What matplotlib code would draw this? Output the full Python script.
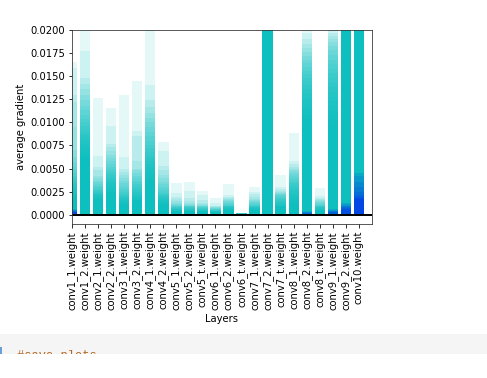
import numpy as np
import matplotlib
matplotlib.use("Agg")
import matplotlib.pyplot as plt
from matplotlib.patches import Rectangle

layers = ["conv1_1.weight", "conv1_2.weight", "conv2_1.weight", "conv2_2.weight",
          "conv3_1.weight", "conv3_2.weight", "conv4_1.weight", "conv4_2.weight",
          "conv5_1.weight", "conv5_2.weight", "conv5_t.weight", "conv6_1.weight",
          "conv6_2.weight", "conv6_t.weight", "conv7_1.weight", "conv7_2.weight",
          "conv7_t.weight", "conv8_1.weight", "conv8_2.weight", "conv8_t.weight",
          "conv9_1.weight", "conv9_2.weight", "conv10.weight"]

# max gradient per layer, one value per recorded iteration (25 iterations)
max_conv1_1 = [0.0165, 0.0159, 0.0130, 0.0122, 0.0095, 0.0070, 0.0062, 0.0057, 0.0052, 0.0048,
               0.0045, 0.0042, 0.0040, 0.0038, 0.0036, 0.0034, 0.0032, 0.0030, 0.0028, 0.0026,
               0.0024, 0.0022, 0.0020, 0.0018, 0.0016]
max_conv1_2 = [0.0215, 0.0177, 0.0148, 0.0142, 0.0136, 0.0130, 0.0124, 0.0118, 0.0113, 0.0108,
               0.0104, 0.0100, 0.0096, 0.0092, 0.0089, 0.0086, 0.0083, 0.0080, 0.0077, 0.0074,
               0.0071, 0.0068, 0.0065, 0.0062, 0.0060]
max_conv2_1 = [0.0126, 0.0064, 0.0052, 0.0048, 0.0042, 0.0040, 0.0037, 0.0035, 0.0033, 0.0031,
               0.0030, 0.0028, 0.0027, 0.0026, 0.0025, 0.0024, 0.0023, 0.0022, 0.0021, 0.0020,
               0.0019, 0.0018, 0.0017, 0.0016, 0.0015]
max_conv2_2 = [0.0116, 0.0096, 0.0077, 0.0073, 0.0069, 0.0065, 0.0061, 0.0058, 0.0055, 0.0052,
               0.0049, 0.0047, 0.0045, 0.0043, 0.0041, 0.0039, 0.0037, 0.0035, 0.0033, 0.0031,
               0.0029, 0.0027, 0.0025, 0.0023, 0.0021]
max_conv3_1 = [0.0130, 0.0063, 0.0050, 0.0046, 0.0043, 0.0040, 0.0037, 0.0034, 0.0031, 0.0029,
               0.0027, 0.0025, 0.0023, 0.0021, 0.0020, 0.0019, 0.0018, 0.0017, 0.0016, 0.0015,
               0.0014, 0.0013, 0.0012, 0.0011, 0.0010]
max_conv3_2 = [0.0145, 0.0091, 0.0085, 0.0058, 0.0050, 0.0048, 0.0045, 0.0042, 0.0040, 0.0037,
               0.0035, 0.0033, 0.0031, 0.0029, 0.0027, 0.0025, 0.0023, 0.0021, 0.0020, 0.0019,
               0.0018, 0.0017, 0.0016, 0.0015, 0.0014]
max_conv4_1 = [0.0210, 0.0140, 0.0124, 0.0117, 0.0110, 0.0105, 0.0100, 0.0095, 0.0090, 0.0085,
               0.0080, 0.0076, 0.0072, 0.0068, 0.0064, 0.0061, 0.0058, 0.0055, 0.0052, 0.0049,
               0.0046, 0.0043, 0.0040, 0.0037, 0.0034]
max_conv4_2 = [0.0079, 0.0069, 0.0053, 0.0048, 0.0043, 0.0040, 0.0036, 0.0033, 0.0030, 0.0028,
               0.0026, 0.0024, 0.0022, 0.0021, 0.0020, 0.0019, 0.0018, 0.0017, 0.0016, 0.0015,
               0.0014, 0.0013, 0.0012, 0.0011, 0.0010]
max_conv5_1 = [0.0034, 0.0024, 0.0019, 0.0017, 0.0015, 0.0013, 0.0012, 0.0011, 0.0010, 0.0009,
               0.0009, 0.0008, 0.0008, 0.0007, 0.0007, 0.0006, 0.0006, 0.0005, 0.0005, 0.0005,
               0.0004, 0.0004, 0.0004, 0.0003, 0.0003]
max_conv5_2 = [0.0036, 0.0026, 0.0018, 0.0015, 0.0013, 0.0012, 0.0011, 0.0010, 0.0010, 0.0009,
               0.0009, 0.0008, 0.0008, 0.0007, 0.0007, 0.0006, 0.0006, 0.0005, 0.0005, 0.0005,
               0.0004, 0.0004, 0.0004, 0.0003, 0.0003]
max_conv5_t = [0.0026, 0.0021, 0.0016, 0.0013, 0.0012, 0.0011, 0.0010, 0.0009, 0.0009, 0.0008,
               0.0008, 0.0007, 0.0007, 0.0006, 0.0006, 0.0005, 0.0005, 0.0005, 0.0004, 0.0004,
               0.0004, 0.0003, 0.0003, 0.0003, 0.0002]
max_conv6_1 = [0.0018, 0.0013, 0.0010, 0.0009, 0.0008, 0.0008, 0.0007, 0.0007, 0.0006, 0.0006,
               0.0006, 0.0005, 0.0005, 0.0005, 0.0004, 0.0004, 0.0004, 0.0004, 0.0003, 0.0003,
               0.0003, 0.0003, 0.0002, 0.0002, 0.0002]
max_conv6_2 = [0.0033, 0.0021, 0.0019, 0.0018, 0.0017, 0.0016, 0.0015, 0.0014, 0.0013, 0.0012,
               0.0011, 0.0010, 0.0010, 0.0009, 0.0009, 0.0008, 0.0008, 0.0007, 0.0007, 0.0006,
               0.0006, 0.0005, 0.0005, 0.0004, 0.0004]
max_conv6_t = [0.0002, 0.0002, 0.0002, 0.0002, 0.0002, 0.0002, 0.0002, 0.0002, 0.0002, 0.0002,
               0.0002, 0.0002, 0.0002, 0.0002, 0.0001, 0.0001, 0.0001, 0.0001, 0.0001, 0.0001,
               0.0001, 0.0001, 0.0001, 0.0001, 0.0001]
max_conv7_1 = [0.0030, 0.0025, 0.0022, 0.0019, 0.0017, 0.0016, 0.0015, 0.0014, 0.0013, 0.0012,
               0.0011, 0.0010, 0.0010, 0.0009, 0.0009, 0.0008, 0.0008, 0.0007, 0.0007, 0.0006,
               0.0006, 0.0005, 0.0005, 0.0004, 0.0004]
max_conv7_2 = [0.0610, 0.0580, 0.0550, 0.0520, 0.0500, 0.0480, 0.0460, 0.0440, 0.0420, 0.0400,
               0.0380, 0.0360, 0.0340, 0.0330, 0.0320, 0.0310, 0.0300, 0.0290, 0.0280, 0.0270,
               0.0260, 0.0250, 0.0240, 0.0230, 0.0220]
max_conv7_t = [0.0043, 0.0030, 0.0028, 0.0026, 0.0025, 0.0024, 0.0023, 0.0022, 0.0021, 0.0020,
               0.0019, 0.0018, 0.0017, 0.0016, 0.0015, 0.0014, 0.0013, 0.0012, 0.0011, 0.0010,
               0.0010, 0.0009, 0.0009, 0.0008, 0.0008]
max_conv8_1 = [0.0089, 0.0058, 0.0055, 0.0052, 0.0050, 0.0048, 0.0046, 0.0044, 0.0042, 0.0040,
               0.0038, 0.0036, 0.0034, 0.0032, 0.0030, 0.0028, 0.0026, 0.0024, 0.0022, 0.0020,
               0.0018, 0.0016, 0.0014, 0.0012, 0.0010]
max_conv8_2 = [0.0200, 0.0197, 0.0190, 0.0185, 0.0180, 0.0176, 0.0172, 0.0168, 0.0164, 0.0160,
               0.0156, 0.0152, 0.0148, 0.0144, 0.0140, 0.0136, 0.0132, 0.0128, 0.0124, 0.0120,
               0.0116, 0.0112, 0.0108, 0.0104, 0.0100]
max_conv8_t = [0.0029, 0.0020, 0.0018, 0.0017, 0.0016, 0.0015, 0.0014, 0.0013, 0.0012, 0.0011,
               0.0010, 0.0010, 0.0009, 0.0009, 0.0008, 0.0008, 0.0007, 0.0007, 0.0006, 0.0006,
               0.0005, 0.0005, 0.0004, 0.0004, 0.0003]
max_conv9_1 = [0.0215, 0.0200, 0.0197, 0.0193, 0.0190, 0.0187, 0.0183, 0.0178, 0.0173, 0.0168,
               0.0163, 0.0158, 0.0153, 0.0148, 0.0143, 0.0138, 0.0133, 0.0128, 0.0123, 0.0118,
               0.0113, 0.0108, 0.0103, 0.0098, 0.0093]
max_conv9_2 = [0.0900, 0.0850, 0.0800, 0.0750, 0.0700, 0.0650, 0.0600, 0.0560, 0.0520, 0.0480,
               0.0450, 0.0420, 0.0390, 0.0360, 0.0340, 0.0320, 0.0300, 0.0280, 0.0270, 0.0260,
               0.0250, 0.0240, 0.0230, 0.0220, 0.0210]
max_conv10 = [0.2500, 0.2300, 0.2100, 0.1900, 0.1700, 0.1500, 0.1400, 0.1300, 0.1200, 0.1100,
              0.1000, 0.0900, 0.0850, 0.0800, 0.0750, 0.0700, 0.0650, 0.0600, 0.0550, 0.0500,
              0.0450, 0.0400, 0.0350, 0.0300, 0.0250]

# mean gradient per layer, only the iterations where it shows above zero
ave_conv1_1 = [0.0006, 0.0005, 0.0005, 0.0004, 0.0004, 0.0003, 0.0003, 0.0003]
ave_conv8_2 = [0.0004, 0.0003, 0.0003, 0.0002, 0.0002]
ave_conv9_1 = [0.0006, 0.0005, 0.0004, 0.0004, 0.0003, 0.0003]
ave_conv9_2 = [0.0013, 0.0012, 0.0010, 0.0009, 0.0008, 0.0007, 0.0006, 0.0005]
ave_conv10 = [0.0045, 0.0042, 0.0035, 0.0030, 0.0025, 0.0021, 0.0019, 0.0018, 0.0017]

max_grads = [max_conv1_1, max_conv1_2, max_conv2_1, max_conv2_2, max_conv3_1, max_conv3_2,
             max_conv4_1, max_conv4_2, max_conv5_1, max_conv5_2, max_conv5_t, max_conv6_1,
             max_conv6_2, max_conv6_t, max_conv7_1, max_conv7_2, max_conv7_t, max_conv8_1,
             max_conv8_2, max_conv8_t, max_conv9_1, max_conv9_2, max_conv10]
ave_grads = {0: ave_conv1_1, 18: ave_conv8_2, 20: ave_conv9_1, 21: ave_conv9_2, 22: ave_conv10}

n = len(layers)
n_iter = len(max_conv1_1)

fig = plt.figure(figsize=(487 / 72, 378 / 72), dpi=72)
ax = fig.add_axes([72 / 487, (378 - 224) / 378, 300 / 487, (224 - 30) / 378])

x = np.arange(n)
for it in range(n_iter):
    maxs = [m[it] for m in max_grads]
    ax.bar(x, maxs, alpha=0.1, lw=1, color="c")
for it in range(n_iter):
    idx = [k for k, v in ave_grads.items() if it < len(v)]
    if not idx:
        continue
    vals = [ave_grads[k][it] for k in idx]
    ax.bar(idx, vals, alpha=0.1, lw=1, color="b")

ax.hlines(0, 0, n + 1, lw=2, color="k")
ax.set_xticks(range(n))
ax.set_xticklabels(layers, rotation="vertical")
ax.set_xlim(0, n)
ax.set_ylim(-0.001, 0.02)
ax.set_xlabel("Layers")
ax.set_ylabel("average gradient")
for s in ax.spines.values():
    s.set_color("#333333")

# notebook cell below the output
band = Rectangle((0, (378 - 354) / 378), 1, 20 / 378, transform=fig.transFigure,
                 facecolor="#f5f5f5", edgecolor="none")
fig.patches.append(band)
fig.patches.append(Rectangle((0, (378 - 354) / 378), 2 / 487, 7 / 378, transform=fig.transFigure,
                             facecolor="#6a9fd8", edgecolor="none"))
t = fig.text(17 / 487, (378 - 359) / 378, "#save plots", family="Liberation Mono",
             fontsize=12, color="#b5651d", va="baseline")
t.set_clip_path(band)

fig.savefig("out.png", dpi=72)
